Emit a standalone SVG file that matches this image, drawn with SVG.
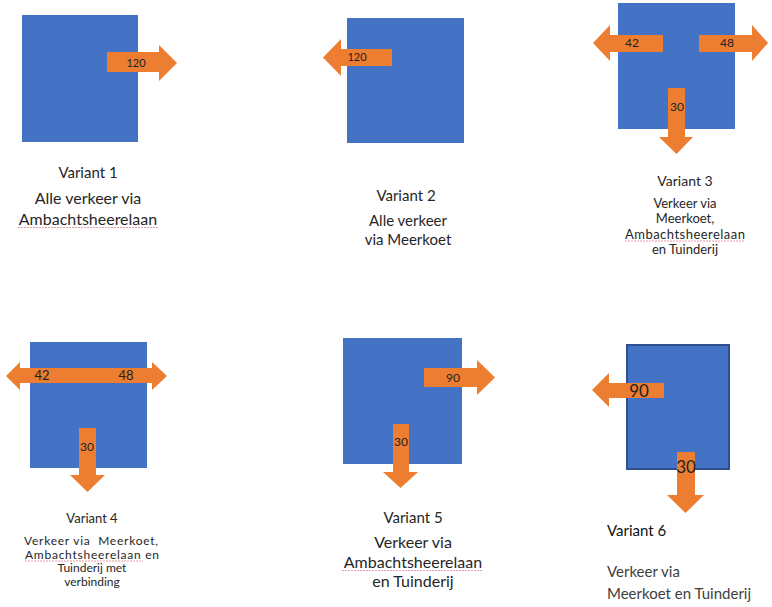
<svg xmlns="http://www.w3.org/2000/svg" width="772" height="607" viewBox="0 0 772 607">
<style>
.box{fill:#4472C4}
.box6{fill:#4472C4;stroke:#2F4F8F;stroke-width:2}
.arr{fill:#ED7D31}
.lbl{font-family:Lato,"Liberation Sans",sans-serif;fill:#222;text-anchor:middle}
.cap{font-family:Lato,"Liberation Sans",sans-serif;fill:#262626;text-anchor:middle}
.cap6{font-family:Lato,"Liberation Sans",sans-serif;fill:#404040;font-size:15px}
.sq{fill:none;stroke:#E07080;stroke-width:1;stroke-dasharray:2 1;opacity:.7}
</style>
<rect width="772" height="607" fill="#fff"/>
<g id="variant1">
<rect class="box" x="22" y="15" width="116" height="127"/>
</g>
<g id="variant2">
<rect class="box" x="347" y="18" width="117" height="125"/>
</g>
<g id="variant3">
<rect class="box" x="618" y="3" width="117" height="126"/>
</g>
<g id="variant4">
<rect class="box" x="30" y="342" width="117" height="126"/>
</g>
<g id="variant5">
<rect class="box" x="343" y="338" width="119" height="126"/>
</g>
<g id="variant6">
<rect class="box6" x="627" y="345" width="102" height="124"/>
</g>
<g id="connectors">
<polygon class="arr" points="107,52 159,52 159,45 177,63 159,81 159,72 107,72"/>
<text class="lbl" x="136" y="67" font-size="11">120</text>
<polygon class="arr" points="392,49 341,49 341,39 323,57.5 341,76 341,66 392,66"/>
<text class="lbl" x="357" y="61" font-size="11">120</text>
<polygon class="arr" points="663,35 610,35 610,25 593,43 610,61 610,52 663,52"/>
<polygon class="arr" points="699,35 752,35 752,25 768,43 752,61 752,52 699,52"/>
<polygon class="arr" points="668,88 685,88 685,137 693,137 676.5,154 659,137 668,137"/>
<text class="lbl" x="632" y="47" font-size="12">42</text>
<text class="lbl" x="727" y="47" font-size="12">48</text>
<text class="lbl" x="677" y="111" font-size="12">30</text>
<polygon class="arr" points="6,376 20,362 20,368 152,368 152,362 167,376 152,390 152,383 20,383 20,390"/>
<text class="lbl" x="42" y="380" font-size="13">42</text>
<text class="lbl" x="126" y="380" font-size="13">48</text>
<polygon class="arr" points="79,428 96,428 96,475 105,475 87.5,492 70,475 79,475"/>
<text class="lbl" x="87" y="451" font-size="12">30</text>
<polygon class="arr" points="424,368 477,368 477,360 495,377.5 477,395 477,387 424,387"/>
<text class="lbl" x="453" y="382" font-size="12">90</text>
<polygon class="arr" points="393,424 409,424 409,472 418,472 400.5,488 383,472 393,472"/>
<text class="lbl" x="401" y="446" font-size="12">30</text>
<polygon class="arr" points="664,383 609,383 609,373 592,390 609,407 609,398 664,398"/>
<text class="lbl" x="639" y="397" font-size="17" fill="#111">90</text>
<polygon class="arr" points="677,452 695,452 695,495 704,495 685.5,513 667,495 677,495"/>
<text class="lbl" x="686" y="473" font-size="17" fill="#111">30</text>
</g>
<g id="captions">
<text class="cap" x="88" y="178" font-size="15">Variant 1</text>
<text class="cap" x="88" y="204" font-size="16">Alle verkeer via</text>
<text class="cap" x="88" y="225" font-size="16">Ambachtsheerelaan</text>
<path class="sq" d="M18,227.5 H158"/>
<text class="cap" x="406" y="201" font-size="15">Variant 2</text>
<text class="cap" x="408" y="226" font-size="15">Alle verkeer</text>
<text class="cap" x="408" y="245" font-size="15">via Meerkoet</text>
<text class="cap" x="685" y="186" font-size="14">Variant 3</text>
<text class="cap" x="685" y="207.5" font-size="13">Verkeer via</text>
<text class="cap" x="685" y="223" font-size="13">Meerkoet,</text>
<text class="cap" x="685" y="238.5" font-size="13" textLength="120">Ambachtsheerelaan</text>
<path class="sq" d="M625,241 H745"/>
<text class="cap" x="685" y="254" font-size="13">en Tuinderij</text>
<text class="cap" x="92" y="523" font-size="13">Variant 4</text>
<text class="cap" x="91" y="545" font-size="12" xml:space="preserve" textLength="134">Verkeer via  Meerkoet,</text>
<text class="cap" x="92" y="558.5" font-size="12" textLength="134">Ambachtsheerelaan en</text>
<path class="sq" d="M25,561 H143"/>
<text class="cap" x="92" y="572" font-size="12">Tuinderij met</text>
<text class="cap" x="92" y="585.5" font-size="12">verbinding</text>
<text class="cap" x="413" y="523" font-size="15">Variant 5</text>
<text class="cap" x="413" y="548" font-size="16">Verkeer via</text>
<text class="cap" x="413" y="568" font-size="16">Ambachtsheerelaan</text>
<path class="sq" d="M342,570.5 H483"/>
<text class="cap" x="413" y="587" font-size="16">en Tuinderij</text>
<text x="607" y="536" font-family="Lato,'Liberation Sans',sans-serif" font-size="15" fill="#111">Variant 6</text>
<text class="cap6" x="607" y="577">Verkeer via</text>
<text class="cap6" x="607" y="599">Meerkoet en Tuinderij</text>
</g>
</svg>
